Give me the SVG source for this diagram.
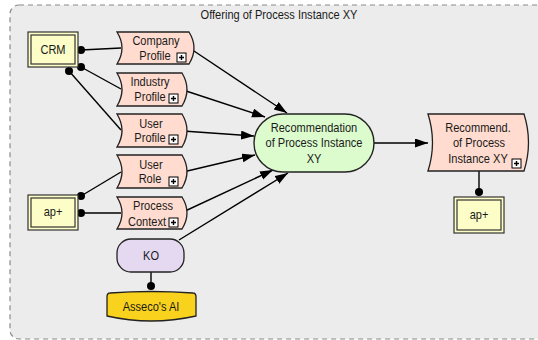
<svg xmlns="http://www.w3.org/2000/svg" width="538" height="340" viewBox="0 0 538 340">
  <defs>
    <marker id="arrow" markerUnits="userSpaceOnUse" markerWidth="14" markerHeight="10" refX="13" refY="4.5" orient="auto">
      <path d="M0,0 L13,4.5 L0,9 Z" fill="#000"/>
    </marker>
    <style>
      /* labels use a narrowed Arial-metric face: scaled horizontally per label */
      text { font-family: "Liberation Sans", Arial, sans-serif; font-size: 13px; fill: #1a1a1a; text-anchor: middle; }
      .frame { fill: #ececec; stroke: #8a8a8a; stroke-width: 1.2; stroke-dasharray: 5 4; }
      .info { fill: #ffdccf; stroke: #222; stroke-width: 1.3; }
      .sys { fill: #fdfdc8; stroke: #333; stroke-width: 1.2; }
      .func { fill: #dcfcce; stroke: #222; stroke-width: 1.4; }
      .ko { fill: #e5d8f1; stroke: #222; stroke-width: 1.3; }
      .ai { fill: #f9d21e; stroke: #222; stroke-width: 1.3; }
      .plus { fill: #fff; stroke: #000; stroke-width: 1; }
      .link { stroke: #000; stroke-width: 1.4; fill: none; }
      .flow { stroke: #000; stroke-width: 1.4; fill: none; marker-end: url(#arrow); }
      .dot { fill: #000; }
    </style>
  </defs>

  <!-- outer grouping frame -->
  <g id="frame">
    <rect class="frame" x="10" y="5" width="540" height="334" rx="9"/>
    <text transform="translate(279 19) scale(.85 1)">Offering of Process Instance XY</text>
  </g>

  <!-- connectors -->
  <g id="connectors">
    <line class="link" x1="81" y1="50" x2="121" y2="48"/>
    <line class="link" x1="81" y1="67" x2="121" y2="89"/>
    <line class="link" x1="69" y1="71" x2="121" y2="130"/>
    <line class="link" x1="81" y1="196" x2="121" y2="172"/>
    <line class="link" x1="81" y1="213" x2="121" y2="213"/>
    <line class="link" x1="151" y1="272" x2="151" y2="286"/>
    <line class="link" x1="479" y1="171" x2="479" y2="192"/>

    <line class="flow" x1="191" y1="49" x2="287" y2="113"/>
    <line class="flow" x1="183" y1="90" x2="265" y2="117"/>
    <line class="flow" x1="183" y1="131" x2="254" y2="136"/>
    <line class="flow" x1="183" y1="172" x2="255" y2="155"/>
    <line class="flow" x1="183" y1="212" x2="273" y2="170"/>
    <line class="flow" x1="179" y1="240" x2="288" y2="173"/>
    <line class="flow" x1="374" y1="143" x2="428" y2="143"/>

    <circle class="dot" cx="81" cy="50" r="4"/>
    <circle class="dot" cx="81" cy="67" r="4"/>
    <circle class="dot" cx="69" cy="71" r="4"/>
    <circle class="dot" cx="81" cy="196" r="4"/>
    <circle class="dot" cx="81" cy="213" r="4"/>
    <circle class="dot" cx="151" cy="286" r="4"/>
    <circle class="dot" cx="479" cy="192" r="4"/>
  </g>

  <!-- systems -->
  <g id="crm">
    <rect class="sys" x="28" y="32" width="50" height="35"/>
    <rect class="sys" x="31" y="35" width="44" height="29"/>
    <text transform="translate(53 54) scale(.85 1)">CRM</text>
  </g>
  <g id="ap-left">
    <rect class="sys" x="28" y="195" width="50" height="35"/>
    <rect class="sys" x="31" y="198" width="44" height="29"/>
    <text transform="translate(53 216) scale(.85 1)">ap+</text>
  </g>
  <g id="ap-right">
    <rect class="sys" x="454" y="197" width="50" height="36"/>
    <rect class="sys" x="457" y="200" width="44" height="30"/>
    <text transform="translate(479 219) scale(.85 1)">ap+</text>
  </g>

  <!-- information objects -->
  <g id="company-profile">
    <path class="info" d="M117,32 L189,32 Q199,48 189,64 L117,64 Q127,48 117,32 Z"/>
    <text transform="translate(156 45) scale(.85 1)">Company</text>
    <text transform="translate(155 60) scale(.85 1)">Profile</text>
    <rect class="plus" x="177" y="53" width="9" height="9"/>
    <path class="link" d="M179,57.5 H184 M181.5,55 V60" stroke-width="1"/>
  </g>
  <g id="industry-profile">
    <path class="info" d="M117,73 L182,73 Q192,89.5 182,106 L117,106 Q127,89.5 117,73 Z"/>
    <text transform="translate(150 86) scale(.85 1)">Industry</text>
    <text transform="translate(150 101) scale(.85 1)">Profile</text>
    <rect class="plus" x="169" y="94" width="9" height="9"/>
    <path class="link" d="M171,98.5 H176 M173.5,96 V101" stroke-width="1"/>
  </g>
  <g id="user-profile">
    <path class="info" d="M117,114 L182,114 Q192,130.5 182,147 L117,147 Q127,130.5 117,114 Z"/>
    <text transform="translate(151 128) scale(.85 1)">User</text>
    <text transform="translate(150 142) scale(.85 1)">Profile</text>
    <rect class="plus" x="169" y="135" width="9" height="9"/>
    <path class="link" d="M171,139.5 H176 M173.5,137 V142" stroke-width="1"/>
  </g>
  <g id="user-role">
    <path class="info" d="M117,155 L182,155 Q192,171.5 182,188 L117,188 Q127,171.5 117,155 Z"/>
    <text transform="translate(151 169) scale(.85 1)">User</text>
    <text transform="translate(150 183) scale(.85 1)">Role</text>
    <rect class="plus" x="169" y="177" width="9" height="9"/>
    <path class="link" d="M171,181.5 H176 M173.5,179 V184" stroke-width="1"/>
  </g>
  <g id="process-context">
    <path class="info" d="M117,197 L182,197 Q192,213 182,229 L117,229 Q127,213 117,197 Z"/>
    <text transform="translate(153 210) scale(.85 1)">Process</text>
    <text transform="translate(147 226) scale(.85 1)">Context</text>
    <rect class="plus" x="169" y="218" width="9" height="9"/>
    <path class="link" d="M171,222.5 H176 M173.5,220 V225" stroke-width="1"/>
  </g>
  <g id="recommend-output">
    <path class="info" d="M428,114 L524,114 Q533,142.5 524,171 L428,171 Q437,142.5 428,114 Z"/>
    <text transform="translate(478 132) scale(.85 1)">Recommend.</text>
    <text transform="translate(479 147) scale(.85 1)">of Process</text>
    <text transform="translate(478 163) scale(.85 1)">Instance XY</text>
    <rect class="plus" x="512" y="159" width="9" height="9"/>
    <path class="link" d="M514,163.5 H519 M516.5,161 V166" stroke-width="1"/>
  </g>

  <!-- function -->
  <g id="recommendation">
    <rect class="func" x="254" y="114" width="120" height="58" rx="29"/>
    <text transform="translate(314 132) scale(.85 1)">Recommendation</text>
    <text transform="translate(314 147) scale(.85 1)">of Process Instance</text>
    <text transform="translate(314 163) scale(.85 1)">XY</text>
  </g>

  <!-- knowledge object and source -->
  <g id="ko">
    <rect class="ko" x="117" y="239" width="67" height="33" rx="14"/>
    <text transform="translate(151 260) scale(.85 1)">KO</text>
  </g>
  <g id="asseco-ai">
    <path class="ai" d="M110,293 Q151,290 193,293 Q196,293 196,297 L196,316 Q151,326 107,316 L107,297 Q107,293 110,293 Z"/>
    <text transform="translate(151 311) scale(.85 1)">Asseco's AI</text>
  </g>
</svg>
